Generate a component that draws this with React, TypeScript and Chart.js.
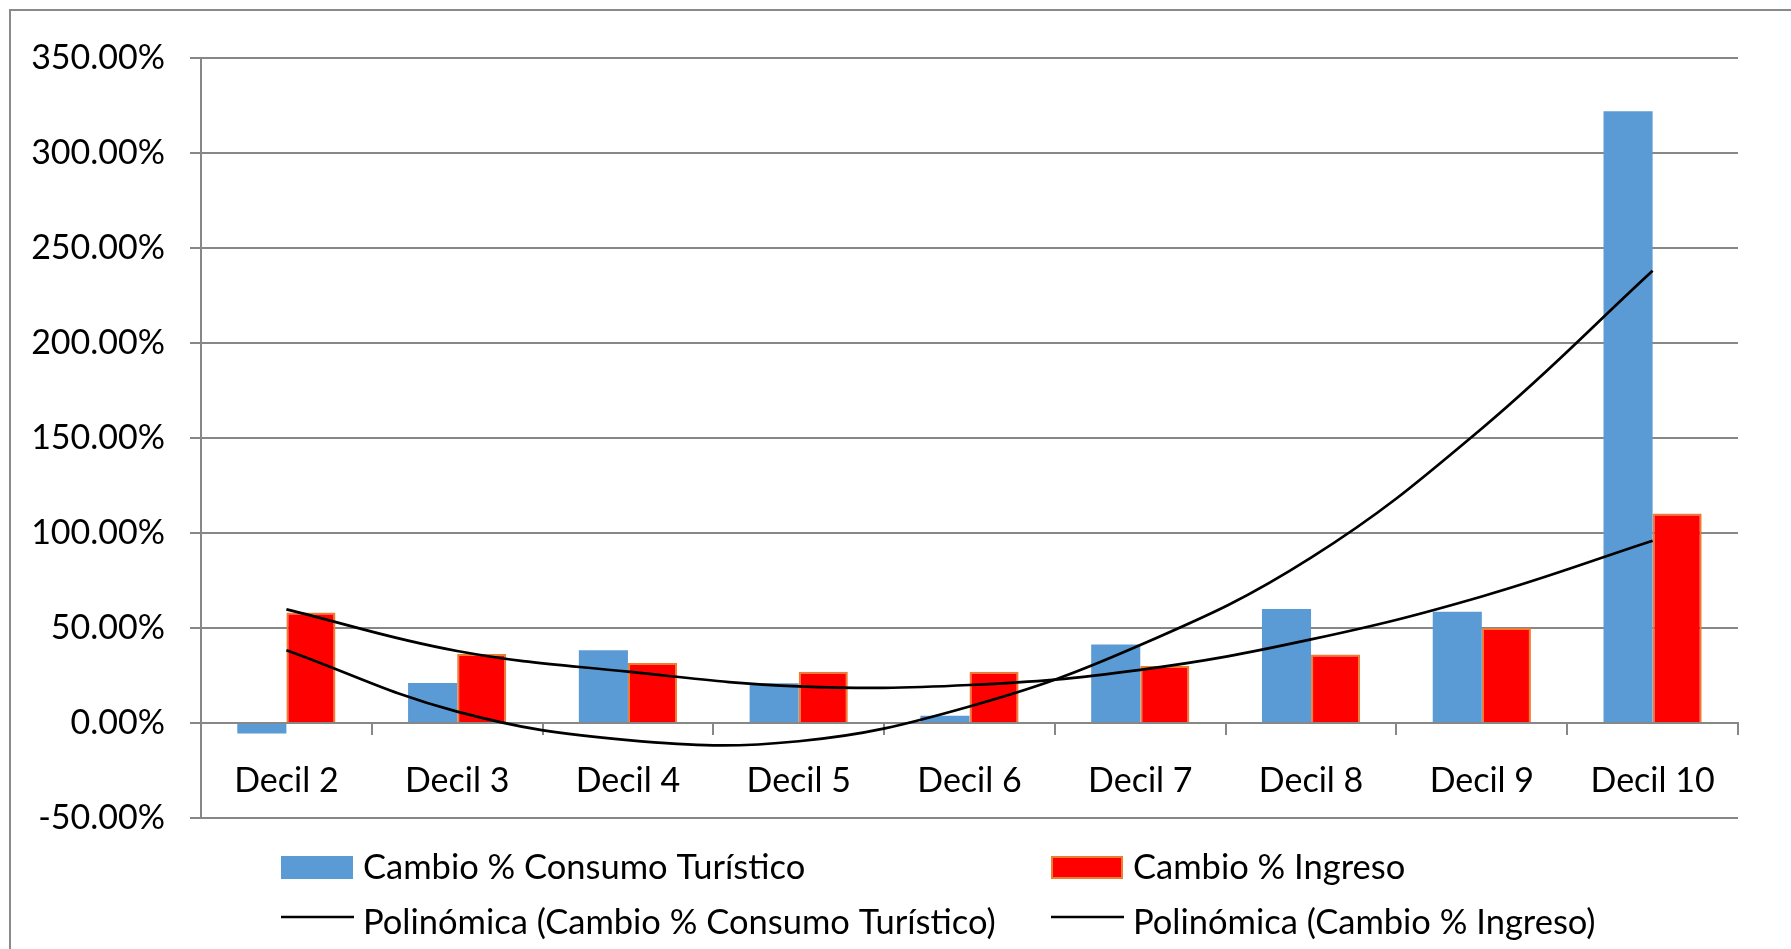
import React, { useEffect, useRef } from "react";
import { Chart, registerables } from "chart.js";

Chart.register(...registerables);

const categories = ["Decil 2", "Decil 3", "Decil 4", "Decil 5", "Decil 6", "Decil 7", "Decil 8", "Decil 9", "Decil 10"];
const consumoValues = [-5.5, 21, 38.3, 20.9, 3.8, 41.3, 60, 58.5, 322];
const ingresoValues = [58.2, 36.3, 31.6, 27, 27, 30, 36, 50, 110.3];
const trendConsumo = [38.3, 6, -9, -9.6, 8.7, 41, 87, 155, 238];
const trendIngreso = [59.8, 37.9, 27, 19.3, 20, 28, 44, 66.6, 95.9];
const yTicks = [-50, 0, 50, 100, 150, 200, 250, 300, 350];

const labelConsumo = "Cambio % Consumo Turístico";
const labelIngreso = "Cambio % Ingreso";
const labelTrendConsumo = "Polinómica (Cambio % Consumo Turístico)";
const labelTrendIngreso = "Polinómica (Cambio % Ingreso)";

const GRID = "#878787";
const FONT = "Lato";

const frameAndLegend = {
  id: "frameAndLegend",
  beforeDraw(chart: any) {
    const ctx = chart.ctx;
    ctx.save();
    ctx.fillStyle = "#ffffff";
    ctx.fillRect(0, 0, chart.width, chart.height);
    ctx.strokeStyle = "#8a8a8a";
    ctx.lineWidth = 2;
    ctx.beginPath();
    ctx.moveTo(10, chart.height + 10);
    ctx.lineTo(10, 10);
    ctx.lineTo(chart.width + 10, 10);
    ctx.stroke();
    ctx.restore();
  },
  afterDraw(chart: any) {
    const ctx = chart.ctx;
    const ds = chart.data.datasets;
    const cols = [281, 1051];
    const rows = [868, 923];
    const entries = [
      { d: ds[0], col: 0, row: 0, kind: "box" },
      { d: ds[1], col: 1, row: 0, kind: "box" },
      { d: ds[2], col: 0, row: 1, kind: "line" },
      { d: ds[3], col: 1, row: 1, kind: "line" },
    ];
    ctx.save();
    ctx.font = `34.5px ${FONT}`;
    ctx.textBaseline = "middle";
    ctx.textAlign = "left";
    entries.forEach((e) => {
      const x = cols[e.col];
      const y = rows[e.row];
      if (e.kind === "box") {
        ctx.fillStyle = e.d.backgroundColor;
        ctx.fillRect(x, y - 12, 72, 23);
        if (e.d.borderWidth) {
          ctx.strokeStyle = e.d.borderColor;
          ctx.lineWidth = 2;
          ctx.strokeRect(x + 1, y - 11, 70, 21);
        }
      } else {
        ctx.strokeStyle = e.d.borderColor;
        ctx.lineWidth = 2.7;
        ctx.beginPath();
        ctx.moveTo(x, y - 6);
        ctx.lineTo(x + 73, y - 6);
        ctx.stroke();
      }
      ctx.fillStyle = "#000";
      ctx.fillText(e.d.label, x + 82, y);
    });
    ctx.restore();
  },
};

export default function App() {
  const ref = useRef<HTMLCanvasElement | null>(null);
  useEffect(() => {
    if (!ref.current) return;
    const chart = new Chart(ref.current, {
      type: "bar",
      data: {
        labels: categories,
        datasets: [
          {
            type: "bar",
            label: labelConsumo,
            data: consumoValues,
            backgroundColor: "#5B9BD5",
            borderWidth: 0,
            categoryPercentage: 0.575,
            barPercentage: 1.0,
            order: 2,
          },
          {
            type: "bar",
            label: labelIngreso,
            data: ingresoValues,
            backgroundColor: "#FF0000",
            borderColor: "#ED7D31",
            borderWidth: 2,
            categoryPercentage: 0.575,
            barPercentage: 1.0,
            order: 2,
          },
          {
            type: "line",
            label: labelTrendConsumo,
            data: trendConsumo,
            borderColor: "#000000",
            borderWidth: 2.7,
            pointRadius: 0,
            tension: 0.4,
            fill: false,
            order: 0,
          },
          {
            type: "line",
            label: labelTrendIngreso,
            data: trendIngreso,
            borderColor: "#000000",
            borderWidth: 2.7,
            pointRadius: 0,
            tension: 0.4,
            fill: false,
            order: 0,
          },
        ] as any,
      },
      options: {
        animation: false,
        responsive: true,
        maintainAspectRatio: false,
        layout: { padding: { left: 0, top: 58, right: 53, bottom: 131 } },
        plugins: { legend: { display: false }, tooltip: { enabled: false } },
        scales: {
          x: {
            position: { y: 0 } as any,
            grid: { drawOnChartArea: false, drawTicks: true, tickLength: 11, color: GRID, lineWidth: 2, offset: true },
            border: { display: true, color: GRID, width: 2 },
            ticks: { color: "#000", font: { family: FONT, size: 34 }, padding: 27 },
            afterFit: (s: any) => {
              s.height = 0;
            },
          },
          y: {
            min: yTicks[0],
            max: yTicks[yTicks.length - 1],
            afterBuildTicks: (s: any) => {
              s.ticks = yTicks.map((v) => ({ value: v }));
            },
            ticks: {
              color: "#000",
              font: { family: FONT, size: 34 },
              padding: 25,
              callback: (v: any) => Number(v).toFixed(2) + "%",
            },
            grid: { color: GRID, lineWidth: 2, tickLength: 11 },
            border: { color: GRID, width: 2 },
            afterFit: (s: any) => {
              s.width = 201;
            },
          },
        },
      },
      plugins: [frameAndLegend],
    });
    return () => chart.destroy();
  }, []);
  return (
    <div style={{ position: "absolute", left: 0, top: 0, width: 1791, height: 949 }}>
      <canvas ref={ref} />
    </div>
  );
}
